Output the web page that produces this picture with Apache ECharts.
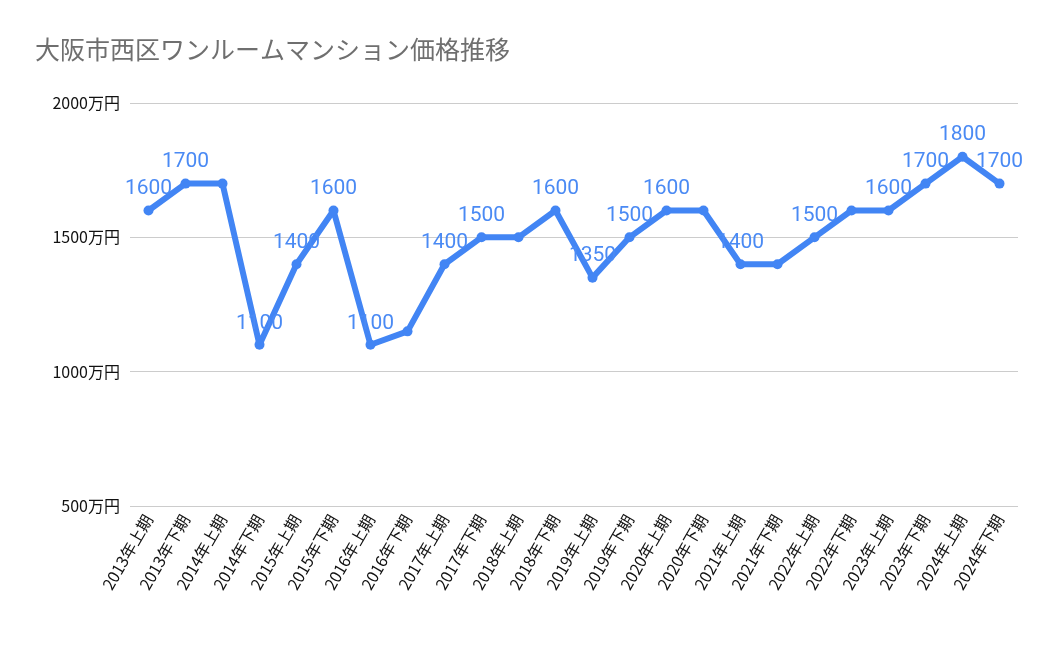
<!DOCTYPE html><html><head><meta charset="utf-8"><script src="https://cdn.jsdelivr.net/npm/echarts@6/dist/echarts.min.js"></script>
<style>body{margin:0}#c{width:1050px;height:649px}</style></head><body><div id="c"></div><script>
const categories=["2013年上期","2013年下期","2014年上期","2014年下期","2015年上期","2015年下期","2016年上期","2016年下期","2017年上期","2017年下期","2018年上期","2018年下期","2019年上期","2019年下期","2020年上期","2020年下期","2021年上期","2021年下期","2022年上期","2022年下期","2023年上期","2023年下期","2024年上期","2024年下期"];
const prices=[1600,1700,1700,1100,1400,1600,1100,1150,1400,1500,1500,1600,1350,1500,1600,1600,1400,1400,1500,1600,1600,1700,1800,1700];
const labelled=[0,1,3,4,5,6,8,9,11,12,13,14,16,18,20,21,22,23];
const yTicks=[500,1000,1500,2000];
const font='"Noto Sans CJK JP","Roboto",sans-serif';
const c=echarts.init(document.getElementById('c'));
c.setOption({
 title:{text:'大阪市西区ワンルームマンション価格推移',left:30,top:32,textStyle:{color:'#6f6f6f',fontSize:25,fontWeight:'normal',fontFamily:font}},
 grid:{left:130,right:32,top:103,bottom:143},
 xAxis:{type:'category',data:categories,boundaryGap:true,axisLine:{show:false},axisTick:{show:false},
  axisLabel:{interval:0,rotate:60,fontSize:16,color:'#111',fontFamily:font,margin:10}},
 yAxis:{type:'value',min:500,max:2000,interval:500,axisLine:{show:false},axisTick:{show:false},
  splitLine:{lineStyle:{color:'#ccc'}},
  axisLabel:{fontSize:16,color:'#111',fontFamily:font,margin:10,formatter:v=>yTicks.includes(v)?v+'万円':''}},
 series:[{type:'line',data:prices.map((v,i)=>({value:v,label:{show:labelled.includes(i)}})),
  lineStyle:{color:'#4285f4',width:6},itemStyle:{color:'#4285f4'},symbol:'circle',symbolSize:10,
  label:{position:'top',distance:6,fontSize:21,color:'#4a8af4',fontFamily:'Roboto'}}]
});
</script></body></html>
